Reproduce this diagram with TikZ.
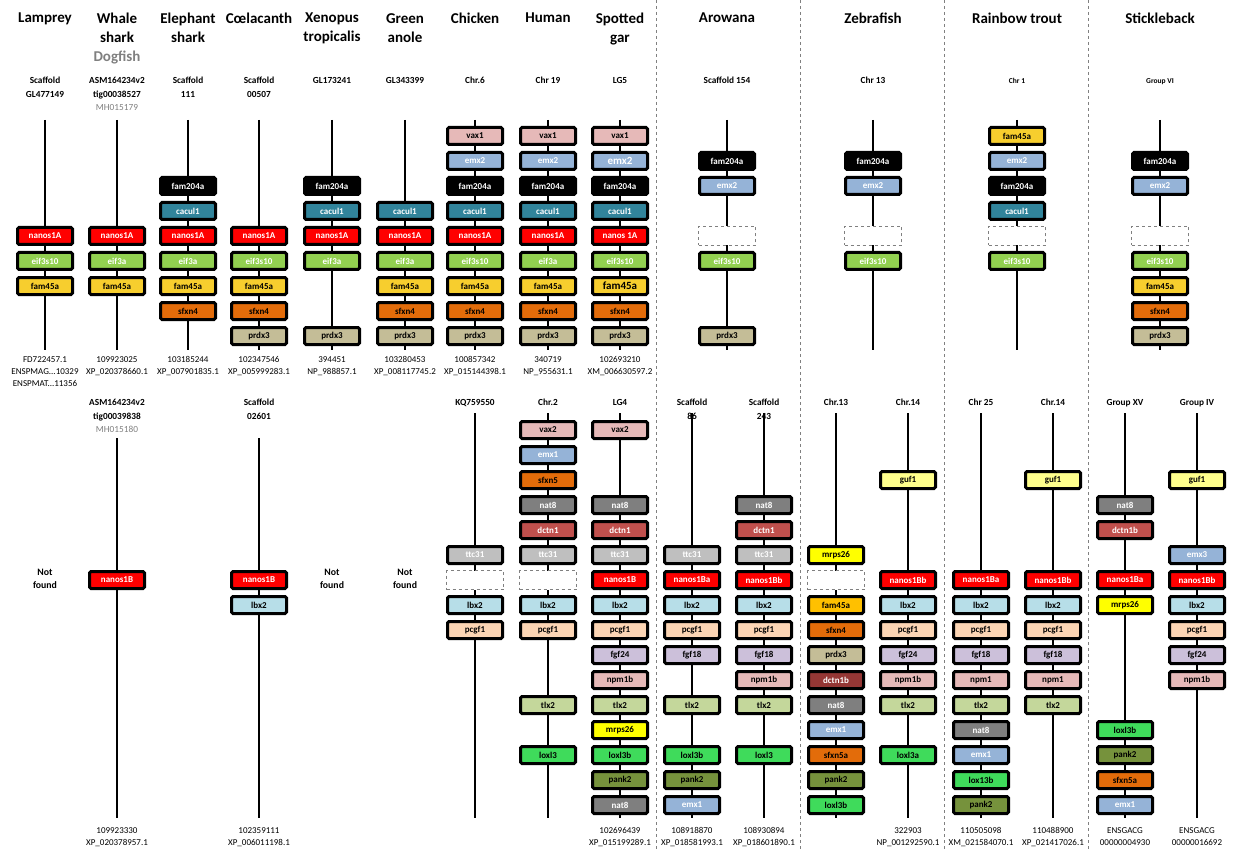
\documentclass[tikz,border=0pt]{standalone}
\usepackage{fontspec}
\setmainfont{Carlito}
\usetikzlibrary{positioning}

% gene colours
\definecolor{nanosred}{HTML}{FF0000}
\definecolor{eifgreen}{HTML}{92D050}
\definecolor{famgold}{HTML}{F7CE2E}
\definecolor{famamber}{HTML}{FFC000}
\definecolor{sfxnorange}{HTML}{E36C0A}
\definecolor{prdxkhaki}{HTML}{C4BD97}
\definecolor{caculteal}{HTML}{31849B}
\definecolor{vaxpink}{HTML}{E6B9B8}
\definecolor{emxblue}{HTML}{95B3D7}
\definecolor{natgrey}{HTML}{7F7F7F}
\definecolor{dctnred}{HTML}{C0504D}
\definecolor{dctndark}{HTML}{953735}
\definecolor{ttcgrey}{HTML}{BFBFBF}
\definecolor{lbxcyan}{HTML}{B7DEE8}
\definecolor{pcgfpeach}{HTML}{FCD5B4}
\definecolor{fgflilac}{HTML}{CCC0DA}
\definecolor{tlxsage}{HTML}{C4D79B}
\definecolor{mrpsyellow}{HTML}{FFFF00}
\definecolor{loxlgreen}{HTML}{3FDB5B}
\definecolor{pankolive}{HTML}{76923C}
\definecolor{gufyellow}{HTML}{FFFF8C}

\tikzset{
  gene/.style       = {draw=black, line width=3pt, rounded corners=1.5pt,
                       minimum width=55pt, minimum height=17pt, inner sep=0pt,
                       font=\fontsize{9}{10}\selectfont\bfseries},
  nanos box/.style  = {gene, fill=nanosred, text=white},
  eif box/.style    = {gene, fill=eifgreen, text=white},
  fam box/.style    = {gene, fill=famgold},
  famz box/.style   = {gene, fill=famamber},
  fam204 box/.style = {gene, fill=black, text=white},
  cacul box/.style  = {gene, fill=caculteal, text=white},
  sfxn box/.style   = {gene, fill=sfxnorange},
  prdx box/.style   = {gene, fill=prdxkhaki},
  vax box/.style    = {gene, fill=vaxpink},
  emx box/.style    = {gene, fill=emxblue, text=white},
  nat box/.style    = {gene, fill=natgrey, text=white},
  dctn box/.style   = {gene, fill=dctnred, text=white},
  dctnz box/.style  = {gene, fill=dctndark, text=white},
  ttc box/.style    = {gene, fill=ttcgrey, text=white},
  lbx box/.style    = {gene, fill=lbxcyan},
  pcgf box/.style   = {gene, fill=pcgfpeach},
  fgf box/.style    = {gene, fill=fgflilac},
  npm box/.style    = {gene, fill=vaxpink},
  tlx box/.style    = {gene, fill=tlxsage},
  mrps box/.style   = {gene, fill=mrpsyellow},
  loxl box/.style   = {gene, fill=loxlgreen},
  pank box/.style   = {gene, fill=pankolive},
  guf box/.style    = {gene, fill=gufyellow},
  emx big/.style    = {emx box, font=\fontsize{11}{12}\selectfont\bfseries},
  fam big/.style    = {fam box, font=\fontsize{11}{12}\selectfont\bfseries},
  missing/.style    = {draw=gray, dashed, line width=0.8pt, fill=white,
                       minimum width=57pt, minimum height=19pt},
  chrom/.style      = {line width=2pt},
  divider/.style    = {draw=gray, dashed, line width=0.8pt},
  species/.style    = {anchor=north, align=center, inner sep=0pt,
                       font=\fontsize{15}{19}\selectfont\bfseries},
  locus/.style      = {anchor=north, align=center, inner sep=0pt,
                       font=\fontsize{9.3}{13.5}\selectfont\bfseries},
  acc/.style        = {anchor=north, align=center, inner sep=0pt,
                       font=\fontsize{9}{12}\selectfont},
  absent/.style     = {anchor=north, align=center, inner sep=0pt,
                       font=\fontsize{9.8}{13}\selectfont\bfseries}
}

\begin{document}
\begin{tikzpicture}[x=1pt, y=-1pt]
\useasboundingbox (0,0) rectangle (1236,850);

% dashed separators between the teleost panels
\foreach \x in {656,800,944,1088}
  \draw[divider] (\x,0) -- (\x,850);

% chromosome backbones, upper row (nanos1A locus)
\foreach \n/\x in {lam/45,wsh/117,esh/188,coe/259,xen/332,ano/405,chi/475,hum/548,gar/620,aro/727,zeb/873,tro/1017,sti/1160}{
  \coordinate (\n top) at (\x,120);
  \coordinate (\n bot) at (\x,350);
  \draw[chrom] (\n top) -- (\n bot);
}

% chromosome backbones, lower row (nanos1B locus)
\foreach \n/\x/\y in {wsh2/117/438,coe2/259/438,chi2/475/413,hum2/548/413,gar2/620/413,aroa/692/413,arob/764/413,zeba/836/413,zebb/908/413,troa/981/413,trob/1053/413,stia/1125/413,stib/1197/413}{
  \coordinate (\n top) at (\x,\y);
  \coordinate (\n bot) at (\x,818);
  \draw[chrom] (\n top) -- (\n bot);
}

% species names
\foreach \n/\x/\t in {lam/45/Lamprey, wsh/117/{Whale\\shark\\\textcolor{gray}{Dogfish}}, esh/188/{Elephant\\shark}, coe/259/Cœlacanth, xen/332/{Xenopus\\tropicalis}, ano/405/{Green\\anole}, chi/475/Chicken, hum/548/Human, gar/620/{Spotted\\gar}, aro/727/Arowana, zeb/873/Zebrafish, tro/1017/Rainbow trout, sti/1160/Stickleback}
  \node[species] (\n name) at (\x,13) {\t};

% scaffolds, upper row
\foreach \n/\x/\t in {lam/45/{Scaffold\\GL477149}, wsh/117/{ASM164234v2\\tig00038527\\\textcolor{gray}{\mdseries MH015179}}, esh/188/{Scaffold\\111}, coe/259/{Scaffold\\00507}, xen/332/GL173241, ano/405/GL343399, chi/475/Chr.6, hum/548/Chr 19, gar/620/LG5, aro/727/Scaffold 154, zeb/873/Chr 13}
  \node[locus] (\n locus) at (\x,77) {\t};
\node[locus, font=\fontsize{7.5}{8}\selectfont\bfseries] (tro locus) at (1017,78) {Chr 1};
\node[locus, font=\fontsize{7.5}{8}\selectfont\bfseries] (sti locus) at (1160,78) {Group VI};

% upper row genes
\foreach \k/\s/\g in {4/nanos box/nanos1A,5/eif box/eif3s10,6/fam box/fam45a}
  \node[\s] (lam-\k) at (45,{136+25*\k}) {\g};
\foreach \k/\s/\g in {4/nanos box/nanos1A,5/eif box/eif3a,6/fam box/fam45a}
  \node[\s] (wsh-\k) at (117,{136+25*\k}) {\g};
\foreach \k/\s/\g in {2/fam204 box/fam204a,3/cacul box/cacul1,4/nanos box/nanos1A,5/eif box/eif3a,6/fam box/fam45a,7/sfxn box/sfxn4}
  \node[\s] (esh-\k) at (188,{136+25*\k}) {\g};
\foreach \k/\s/\g in {4/nanos box/nanos1A,5/eif box/eif3s10,6/fam box/fam45a,7/sfxn box/sfxn4,8/prdx box/prdx3}
  \node[\s] (coe-\k) at (259,{136+25*\k}) {\g};
\foreach \k/\s/\g in {2/fam204 box/fam204a,3/cacul box/cacul1,4/nanos box/nanos1A,5/eif box/eif3a,8/prdx box/prdx3}
  \node[\s] (xen-\k) at (332,{136+25*\k}) {\g};
\foreach \k/\s/\g in {3/cacul box/cacul1,4/nanos box/nanos1A,5/eif box/eif3a,6/fam box/fam45a,7/sfxn box/sfxn4,8/prdx box/prdx3}
  \node[\s] (ano-\k) at (405,{136+25*\k}) {\g};
\foreach \k/\s/\g in {0/vax box/vax1,1/emx box/emx2,2/fam204 box/fam204a,3/cacul box/cacul1,4/nanos box/nanos1A,5/eif box/eif3s10,6/fam box/fam45a,7/sfxn box/sfxn4,8/prdx box/prdx3}
  \node[\s] (chi-\k) at (475,{136+25*\k}) {\g};
\foreach \k/\s/\g in {0/vax box/vax1,1/emx box/emx2,2/fam204 box/fam204a,3/cacul box/cacul1,4/nanos box/nanos1A,5/eif box/eif3a,6/fam box/fam45a,7/sfxn box/sfxn4,8/prdx box/prdx3}
  \node[\s] (hum-\k) at (548,{136+25*\k}) {\g};
\foreach \k/\s/\g in {0/vax box/vax1,1/emx big/emx2,2/fam204 box/fam204a,3/cacul box/cacul1,4/nanos box/nanos 1A,5/eif box/eif3s10,6/fam big/fam45a,7/sfxn box/sfxn4,8/prdx box/prdx3}
  \node[\s] (gar-\k) at (620,{136+25*\k}) {\g};
\foreach \k/\s/\g in {1/fam204 box/fam204a,2/emx box/emx2,4/missing/{},5/eif box/eif3s10,8/prdx box/prdx3}
  \node[\s] (aro-\k) at (727,{136+25*\k}) {\g};
\foreach \k/\s/\g in {1/fam204 box/fam204a,2/emx box/emx2,4/missing/{},5/eif box/eif3s10}
  \node[\s] (zeb-\k) at (873,{136+25*\k}) {\g};
\foreach \k/\s/\g in {0/fam box/fam45a,1/emx box/emx2,2/fam204 box/fam204a,3/cacul box/cacul1,4/missing/{},5/eif box/eif3s10}
  \node[\s] (tro-\k) at (1017,{136+25*\k}) {\g};
\foreach \k/\s/\g in {1/fam204 box/fam204a,2/emx box/emx2,4/missing/{},5/eif box/eif3s10,6/fam box/fam45a,7/sfxn box/sfxn4,8/prdx box/prdx3}
  \node[\s] (sti-\k) at (1160,{136+25*\k}) {\g};

% gene ids, upper row
\node[acc] (lam acc) at (45,356) {FD722457.1\\ENSPMAG...10329\\ENSPMAT...11356};
\foreach \n/\x/\t in {wsh/117/{109923025\\XP\_020378660.1}, esh/188/{103185244\\XP\_007901835.1}, coe/259/{102347546\\XP\_005999283.1}, xen/332/{394451\\NP\_988857.1}, ano/405/{103280453\\XP\_008117745.2}, chi/475/{100857342\\XP\_015144398.1}, hum/548/{340719\\NP\_955631.1}, gar/620/{102693210\\XM\_006630597.2}}
  \node[acc] (\n acc) at (\x,356) {\t};

% scaffolds, lower row
\foreach \n/\x/\t in {wsh2/117/{ASM164234v2\\tig00039838\\\textcolor{gray}{\mdseries MH015180}}, coe2/259/{Scaffold\\02601}, chi2/475/KQ759550, hum2/548/Chr.2, gar2/620/LG4, aroa/692/{Scaffold\\86}, arob/764/{Scaffold\\243}, zeba/836/Chr.13, zebb/908/Chr.14, troa/981/Chr 25, trob/1053/Chr.14, stia/1125/Group XV, stib/1197/Group IV}
  \node[locus] (\n locus) at (\x,399) {\t};

\foreach \n/\x in {lam2/45, xen2/332, ano2/405}
  \node[absent] (\n none) at (\x,569) {Not\\found};

% lower row genes
\foreach \k/\s/\g in {6/nanos box/nanos1B}
  \node[\s] (wsh2-\k) at (117,{430+25*\k}) {\g};
\foreach \k/\s/\g in {6/nanos box/nanos1B,7/lbx box/lbx2}
  \node[\s] (coe2-\k) at (259,{430+25*\k}) {\g};
\foreach \k/\s/\g in {5/ttc box/ttc31,6/missing/{},7/lbx box/lbx2,8/pcgf box/pcgf1}
  \node[\s] (chi2-\k) at (475,{430+25*\k}) {\g};
\foreach \k/\s/\g in {0/vax box/vax2,1/emx box/emx1,2/sfxn box/sfxn5,3/nat box/nat8,4/dctn box/dctn1,5/ttc box/ttc31,6/missing/{},7/lbx box/lbx2,8/pcgf box/pcgf1,11/tlx box/tlx2,13/loxl box/loxl3}
  \node[\s] (hum2-\k) at (548,{430+25*\k}) {\g};
\foreach \k/\s/\g in {0/vax box/vax2,3/nat box/nat8,4/dctn box/dctn1,5/ttc box/ttc31,6/nanos box/nanos1B,7/lbx box/lbx2,8/pcgf box/pcgf1,9/fgf box/fgf24,10/npm box/npm1b,11/tlx box/tlx2,12/mrps box/mrps26,13/loxl box/loxl3b,14/pank box/pank2,15/nat box/nat8}
  \node[\s] (gar2-\k) at (620,{430+25*\k}) {\g};
\foreach \k/\s/\g in {5/ttc box/ttc31,6/nanos box/nanos1Ba,7/lbx box/lbx2,8/pcgf box/pcgf1,9/fgf box/fgf18,11/tlx box/tlx2,13/loxl box/loxl3b,14/pank box/pank2,15/emx box/emx1}
  \node[\s] (aroa-\k) at (692,{430+25*\k}) {\g};
\foreach \k/\s/\g in {3/nat box/nat8,4/dctn box/dctn1,5/ttc box/ttc31,6/nanos box/nanos1Bb,7/lbx box/lbx2,8/pcgf box/pcgf1,9/fgf box/fgf18,10/npm box/npm1b,11/tlx box/tlx2,13/loxl box/loxl3}
  \node[\s] (arob-\k) at (764,{430+25*\k}) {\g};
\foreach \k/\s/\g in {5/mrps box/mrps26,6/missing/{},7/famz box/fam45a,8/sfxn box/sfxn4,9/prdx box/prdx3,10/dctnz box/dctn1b,11/nat box/nat8,12/emx box/emx1,13/sfxn box/sfxn5a,14/pank box/pank2,15/loxl box/loxl3b}
  \node[\s] (zeba-\k) at (836,{430+25*\k}) {\g};
\foreach \k/\s/\g in {2/guf box/guf1,6/nanos box/nanos1Bb,7/lbx box/lbx2,8/pcgf box/pcgf1,9/fgf box/fgf24,10/npm box/npm1b,11/tlx box/tlx2,13/loxl box/loxl3a}
  \node[\s] (zebb-\k) at (908,{430+25*\k}) {\g};
\foreach \k/\s/\g in {6/nanos box/nanos1Ba,7/lbx box/lbx2,8/pcgf box/pcgf1,9/fgf box/fgf18,10/npm box/npm1,11/tlx box/tlx2,12/nat box/nat8,13/emx box/emx1,14/loxl box/lox13b,15/pank box/pank2}
  \node[\s] (troa-\k) at (981,{430+25*\k}) {\g};
\foreach \k/\s/\g in {2/guf box/guf1,6/nanos box/nanos1Bb,7/lbx box/lbx2,8/pcgf box/pcgf1,9/fgf box/fgf18,10/npm box/npm1,11/tlx box/tlx2}
  \node[\s] (trob-\k) at (1053,{430+25*\k}) {\g};
\foreach \k/\s/\g in {3/nat box/nat8,4/dctn box/dctn1b,6/nanos box/nanos1Ba,7/mrps box/mrps26,12/loxl box/loxl3b,13/pank box/pank2,14/sfxn box/sfxn5a,15/emx box/emx1}
  \node[\s] (stia-\k) at (1125,{430+25*\k}) {\g};
\foreach \k/\s/\g in {2/guf box/guf1,5/emx box/emx3,6/nanos box/nanos1Bb,7/lbx box/lbx2,8/pcgf box/pcgf1,9/fgf box/fgf24,10/npm box/npm1b}
  \node[\s] (stib-\k) at (1197,{430+25*\k}) {\g};

% gene ids, lower row
\foreach \n/\x/\t in {wsh2/117/{109923330\\XP\_020378957.1}, coe2/259/{102359111\\XP\_006011198.1}, gar2/620/{102696439\\XP\_015199289.1}, aroa/692/{108918870\\XP\_018581993.1}, arob/764/{108930894\\XP\_018601890.1}, zebb/908/{322903\\NP\_001292590.1}, troa/981/{110505098\\XM\_021584070.1}, trob/1053/{110488900\\XP\_021417026.1}, stia/1125/{ENSGACG\\00000004930}, stib/1197/{ENSGACG\\00000016692}}
  \node[acc] (\n acc) at (\x,827) {\t};
\end{tikzpicture}
\end{document}
